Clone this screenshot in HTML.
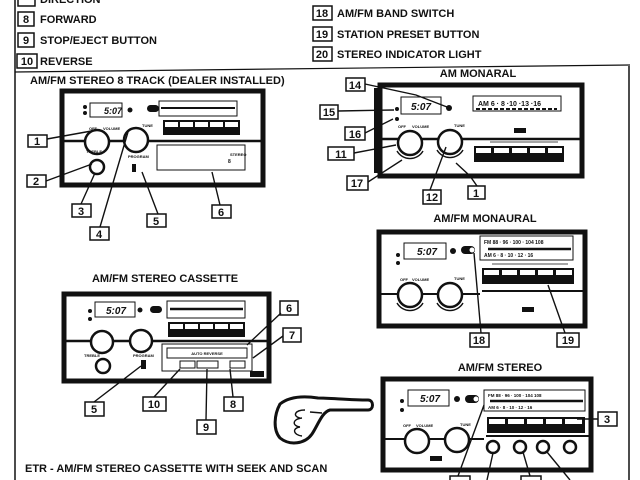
<!DOCTYPE html>
<html><head><meta charset="utf-8"><style>
html,body{margin:0;padding:0;background:#fff;width:640px;height:480px;overflow:hidden}
svg{display:block}
text{font-family:"Liberation Sans",sans-serif;font-weight:bold;fill:#111}
.lb rect{fill:#fff;stroke:#111;stroke-width:1.5}
.lb text{font-size:11px;text-anchor:middle}
.ln{stroke:#111;stroke-width:1.4;fill:none}
.pn{fill:#fff;stroke:#111;stroke-width:5}
.th{fill:none;stroke:#111;stroke-width:1}
.k{fill:#fff;stroke:#111;stroke-width:2.5}
.sm{font-size:4px}
</style></head><body>
<svg width="640" height="480" viewBox="0 0 640 480" xmlns="http://www.w3.org/2000/svg">
<!-- page frame lines -->
<line x1="15" y1="0" x2="15" y2="480" stroke="#111" stroke-width="1.5"/>
<line x1="15" y1="72" x2="630" y2="65" stroke="#111" stroke-width="1.2"/>
<line x1="629" y1="66" x2="629" y2="480" stroke="#111" stroke-width="1.5"/>

<!-- legend -->
<g class="lb">
<rect x="18" y="-6" width="17" height="12"/>
<rect x="18" y="12" width="16" height="14"/><text x="26" y="23">8</text>
<rect x="18" y="33" width="16" height="14"/><text x="26" y="44">9</text>
<rect x="17" y="54" width="20" height="14"/><text x="27" y="65">10</text>
<rect x="313" y="6" width="19" height="14"/><text x="322" y="17">18</text>
<rect x="313" y="27" width="19" height="14"/><text x="322" y="38">19</text>
<rect x="313" y="47" width="19" height="14"/><text x="322" y="58">20</text>
</g>
<text x="40" y="3" font-size="11">DIRECTION</text>
<text x="40" y="23" font-size="11">FORWARD</text>
<text x="40" y="44" font-size="11">STOP/EJECT BUTTON</text>
<text x="40" y="65" font-size="11">REVERSE</text>
<text x="337" y="17" font-size="11">AM/FM BAND SWITCH</text>
<text x="337" y="38" font-size="11">STATION PRESET BUTTON</text>
<text x="337" y="58" font-size="11">STEREO INDICATOR LIGHT</text>

<!-- ===== 8 TRACK ===== -->
<text x="30" y="84" font-size="11">AM/FM STEREO 8 TRACK (DEALER INSTALLED)</text>
<rect class="pn" x="62" y="91" width="201" height="94"/>
<rect class="th" x="90" y="103" width="32" height="14" stroke-width="1.5"/>
<text x="104" y="114" font-size="9" font-style="italic">5:07</text>
<circle cx="85" cy="107" r="2" fill="#111"/><circle cx="85" cy="113" r="2" fill="#111"/><circle cx="130" cy="110" r="2.5" fill="#111"/>
<rect x="147" y="105" width="12" height="7" rx="3.5" fill="#111"/>
<rect class="th" x="159" y="101" width="78" height="15" stroke-width="1.5"/>
<line x1="161" y1="108" x2="235" y2="108" stroke="#111" stroke-width="2"/>
<g fill="#111"><rect x="163" y="120" width="77" height="15"/></g>
<g fill="#fff"><rect x="165" y="122" width="13" height="5"/><rect x="180" y="122" width="13" height="5"/><rect x="195" y="122" width="13" height="5"/><rect x="210" y="122" width="13" height="5"/><rect x="225" y="122" width="13" height="5"/></g>
<line x1="64" y1="141" x2="261" y2="141" stroke="#111" stroke-width="2.5"/>
<circle class="k" cx="97" cy="142" r="12"/>
<circle class="k" cx="136" cy="140" r="12"/>
<circle class="k" cx="97" cy="167" r="7"/>
<rect class="th" x="157" y="145" width="88" height="25" stroke-width="1.5"/>
<text x="230" y="156" class="sm">STEREO</text><text x="228" y="163" font-size="5">8</text>
<rect x="132" y="164" width="4" height="8" fill="#111"/>
<text x="128" y="158" class="sm">PROGRAM</text>
<text x="86" y="153" class="sm">TREBLE</text>
<text x="89" y="130" class="sm">OFF</text><text x="103" y="130" class="sm">VOLUME</text>
<text x="142" y="127" class="sm">TUNE</text>
<g class="lb">
<rect x="28" y="135" width="19" height="12"/><text x="37" y="145">1</text>
<rect x="27" y="175" width="19" height="12"/><text x="36" y="185">2</text>
<rect x="72" y="204" width="19" height="13"/><text x="81" y="215">3</text>
<rect x="90" y="227" width="19" height="13"/><text x="99" y="238">4</text>
<rect x="147" y="214" width="19" height="13"/><text x="156" y="225">5</text>
<rect x="212" y="205" width="19" height="13"/><text x="221" y="216">6</text>
</g>
<path class="ln" d="M47 139L97 130 M46 181L92 164 M81 204L95 173 M100 227L128 132 M158 214L142 172 M220 205L212 172"/>

<!-- ===== AM MONARAL ===== -->
<text x="478" y="77" font-size="11" text-anchor="middle">AM MONARAL</text>
<rect class="pn" x="380" y="85" width="202" height="91"/>
<rect x="374" y="88" width="4" height="85" fill="#111"/>
<rect class="th" x="401" y="97" width="40" height="17" stroke-width="1.5"/>
<text x="421" y="110" font-size="10" font-style="italic" text-anchor="middle">5:07</text>
<circle cx="449" cy="108" r="3" fill="#111"/><circle cx="397" cy="109" r="2" fill="#111"/><circle cx="397" cy="119" r="2" fill="#111"/>
<rect class="th" x="473" y="96" width="88" height="15" stroke-width="1.5"/>
<text x="478" y="106" font-size="7">AM 6 · 8 ·10 ·13 ·16</text>
<line x1="476" y1="109" x2="557" y2="109" stroke="#111" stroke-width="2" stroke-dasharray="4 2"/>
<rect x="514" y="128" width="12" height="5" fill="#111"/>
<line x1="380" y1="139" x2="580" y2="139" stroke="#111" stroke-width="2.5"/>
<rect x="474" y="146" width="90" height="16" fill="#111"/>
<g fill="#fff"><rect x="476" y="148" width="15" height="5"/><rect x="494" y="148" width="15" height="5"/><rect x="512" y="148" width="15" height="5"/><rect x="530" y="148" width="15" height="5"/><rect x="548" y="148" width="14" height="5"/></g>
<path d="M490 142h68" stroke="#111" stroke-width="0.8" fill="none"/>
<circle class="k" cx="410" cy="143" r="12"/><path d="M397 151a15 15 0 0 0 26 0" class="ln" stroke-width="2.5"/>
<circle class="k" cx="450" cy="142" r="12"/><path d="M437 150a15 15 0 0 0 26 0" class="ln" stroke-width="2.5"/>
<text x="398" y="128" class="sm">OFF</text><text x="412" y="128" class="sm">VOLUME</text><text x="454" y="127" class="sm">TUNE</text>
<g class="lb">
<rect x="346" y="78" width="19" height="13"/><text x="355" y="89">14</text>
<rect x="320" y="105" width="18" height="14"/><text x="329" y="116">15</text>
<rect x="345" y="127" width="20" height="13"/><text x="355" y="138">16</text>
<rect x="328" y="147" width="26" height="13"/><text x="341" y="158">11</text>
<rect x="347" y="176" width="21" height="14"/><text x="357" y="187">17</text>
<rect x="423" y="190" width="18" height="14"/><text x="432" y="201">12</text>
<rect x="468" y="186" width="17" height="13"/><text x="476" y="197">1</text>
</g>
<path class="ln" d="M365 84L416 95L447 107 M338 111L394 110 M365 133L393 119 M354 153L396 145 M368 182L402 160 M430 190L446 147 M477 186L470 176L456 163"/>

<!-- ===== AM/FM MONAURAL ===== -->
<text x="485" y="222" font-size="11" text-anchor="middle">AM/FM MONAURAL</text>
<rect class="pn" x="379" y="232" width="206" height="94"/>
<rect class="th" x="404" y="243" width="42" height="16" stroke-width="1.5"/>
<text x="427" y="255" font-size="10" font-style="italic" text-anchor="middle">5:07</text>
<circle cx="453" cy="251" r="3" fill="#111"/><circle cx="398" cy="255" r="2" fill="#111"/><circle cx="398" cy="263" r="2" fill="#111"/>
<rect x="461" y="246" width="14" height="8" rx="4" fill="#111"/><circle cx="472" cy="250" r="2.5" fill="#fff"/>
<rect class="th" x="480" y="236" width="93" height="24" stroke-width="1.5"/>
<text x="484" y="244" font-size="5">FM 88 · 96 · 100 · 104 108</text>
<line x1="488" y1="249" x2="571" y2="249" stroke="#111" stroke-width="2.5"/>
<text x="484" y="257" font-size="5">AM 6 · 8 · 10 · 12 · 16</text>
<rect x="482" y="268" width="92" height="16" fill="#111"/>
<g fill="#fff"><rect x="484" y="270" width="15" height="5"/><rect x="502" y="270" width="15" height="5"/><rect x="520" y="270" width="15" height="5"/><rect x="538" y="270" width="15" height="5"/><rect x="556" y="270" width="16" height="5"/></g>
<path d="M492 264h76" stroke="#111" stroke-width="0.8" fill="none"/>
<line x1="482" y1="291" x2="585" y2="291" stroke="#111" stroke-width="2"/>
<line x1="381" y1="294" x2="480" y2="294" stroke="#111" stroke-width="2"/>
<circle class="k" cx="410" cy="295" r="12"/><path d="M397 303a15 15 0 0 0 26 0" class="ln" stroke-width="2.5"/>
<circle class="k" cx="450" cy="295" r="12"/><path d="M437 303a15 15 0 0 0 26 0" class="ln" stroke-width="2.5"/>
<rect x="522" y="307" width="12" height="5" fill="#111"/>
<text x="400" y="281" class="sm">OFF</text><text x="412" y="281" class="sm">VOLUME</text><text x="454" y="280" class="sm">TUNE</text>
<g class="lb">
<rect x="470" y="333" width="19" height="14"/><text x="479" y="344">18</text>
<rect x="557" y="333" width="22" height="14"/><text x="568" y="344">19</text>
</g>
<path class="ln" d="M481 333L474 253 M565 333L548 285"/>

<!-- ===== CASSETTE ===== -->
<text x="165" y="282" font-size="11" text-anchor="middle">AM/FM STEREO CASSETTE</text>
<rect class="pn" x="64" y="294" width="205" height="87"/>
<rect class="th" x="95" y="302" width="40" height="15" stroke-width="1.5"/>
<text x="116" y="314" font-size="10" font-style="italic" text-anchor="middle">5:07</text>
<circle cx="90" cy="311" r="2" fill="#111"/><circle cx="90" cy="319" r="2" fill="#111"/><circle cx="140" cy="310" r="2.5" fill="#111"/>
<rect x="150" y="306" width="12" height="7" rx="3.5" fill="#111"/>
<rect class="th" x="167" y="301" width="78" height="17" stroke-width="1.5"/>
<line x1="170" y1="309" x2="243" y2="309" stroke="#111" stroke-width="2.5"/>
<rect x="168" y="322" width="77" height="15" fill="#111"/>
<g fill="#fff"><rect x="170" y="324" width="13" height="5"/><rect x="185" y="324" width="13" height="5"/><rect x="200" y="324" width="13" height="5"/><rect x="215" y="324" width="13" height="5"/><rect x="230" y="324" width="13" height="5"/></g>
<line x1="66" y1="341" x2="267" y2="341" stroke="#111" stroke-width="2.5"/>
<circle class="k" cx="102" cy="342" r="11"/>
<circle class="k" cx="141" cy="341" r="11"/>
<circle class="k" cx="103" cy="366" r="7"/>
<rect x="141" y="360" width="5" height="9" fill="#111"/>
<rect class="th" x="162" y="344" width="90" height="27" stroke-width="1.5"/>
<rect class="th" x="167" y="348" width="80" height="10"/>
<text x="207" y="355" font-size="4" text-anchor="middle">AUTO REVERSE</text>
<rect class="th" x="180" y="361" width="15" height="7"/><rect class="th" x="197" y="361" width="21" height="7"/><rect class="th" x="230" y="361" width="15" height="7"/>
<rect x="250" y="371" width="14" height="6" fill="#111"/>
<text x="84" y="357" class="sm">TREBLE</text><text x="133" y="357" class="sm">PROGRAM</text>
<g class="lb">
<rect x="280" y="301" width="18" height="14"/><text x="289" y="312">6</text>
<rect x="283" y="328" width="18" height="14"/><text x="292" y="339">7</text>
<rect x="85" y="402" width="19" height="14"/><text x="94" y="413">5</text>
<rect x="143" y="397" width="23" height="14"/><text x="154" y="408">10</text>
<rect x="224" y="397" width="19" height="14"/><text x="233" y="408">8</text>
<rect x="197" y="420" width="19" height="14"/><text x="206" y="431">9</text>
</g>
<path class="ln" d="M281 313L247 345 M283 336L253 358 M94 402L141 366 M154 397L180 369 M233 397L230 369 M206 420L207 369"/>

<!-- hand -->
<path d="M318 398C330 398 350 400 368 400C374 400 374 410 368 410L330 410C322 412 318 425 312 434C305 444 290 446 280 438C273 430 274 415 280 404C290 396 305 396 318 398Z" fill="#fff" stroke="#111" stroke-width="3"/>
<path class="ln" stroke-width="2.5" d="M305 410C295 410 292 416 300 418M302 418C292 419 292 426 300 427M300 427C292 428 293 435 302 436M310 412L322 413"/>

<text x="25" y="472" font-size="11">ETR - AM/FM STEREO CASSETTE WITH SEEK AND SCAN</text>

<!-- ===== AM/FM STEREO ===== -->
<text x="500" y="371" font-size="11" text-anchor="middle">AM/FM STEREO</text>
<rect class="pn" x="383" y="379" width="208" height="91"/>
<rect class="th" x="408" y="390" width="41" height="16" stroke-width="1.5"/>
<text x="430" y="402" font-size="10" font-style="italic" text-anchor="middle">5:07</text>
<circle cx="457" cy="399" r="3" fill="#111"/><circle cx="402" cy="401" r="2" fill="#111"/><circle cx="402" cy="410" r="2" fill="#111"/>
<rect x="465" y="395" width="14" height="8" rx="4" fill="#111"/><circle cx="476" cy="399" r="2.5" fill="#fff"/>
<rect class="th" x="484" y="390" width="101" height="21" stroke-width="1.5"/>
<text x="488" y="397" font-size="4.5">FM 88 · 96 · 100 · 104 108</text>
<line x1="490" y1="401" x2="583" y2="401" stroke="#111" stroke-width="2.5"/>
<text x="488" y="409" font-size="4.5">AM 6 · 8 · 10 · 12 · 16</text>
<rect x="487" y="417" width="98" height="16" fill="#111"/>
<g fill="#fff"><rect x="489" y="419" width="16" height="5"/><rect x="508" y="419" width="16" height="5"/><rect x="527" y="419" width="16" height="5"/><rect x="546" y="419" width="16" height="5"/><rect x="565" y="419" width="17" height="5"/></g>
<line x1="486" y1="436" x2="589" y2="436" stroke="#111" stroke-width="2"/>
<line x1="385" y1="439" x2="484" y2="439" stroke="#111" stroke-width="2"/>
<circle class="k" cx="417" cy="441" r="12"/>
<circle class="k" cx="457" cy="440" r="12"/>
<circle class="k" cx="493" cy="447" r="6" stroke-width="1.8"/><circle class="k" cx="520" cy="447" r="6" stroke-width="1.8"/><circle class="k" cx="543" cy="447" r="6" stroke-width="1.8"/><circle class="k" cx="570" cy="447" r="6" stroke-width="1.8"/>
<rect x="430" y="456" width="12" height="5" fill="#111"/>
<text x="403" y="427" class="sm">OFF</text><text x="416" y="427" class="sm">VOLUME</text><text x="460" y="426" class="sm">TUNE</text>
<g class="lb">
<rect x="598" y="412" width="19" height="14"/><text x="607" y="423">3</text>
<rect x="450" y="476" width="20" height="10"/>
<rect x="521" y="476" width="20" height="10"/>
</g>
<path class="ln" d="M598 419L577 419 M458 476L484 405 M487 480L493 453 M530 476L523 452 M570 480L547 452"/>
</svg>
</body></html>
